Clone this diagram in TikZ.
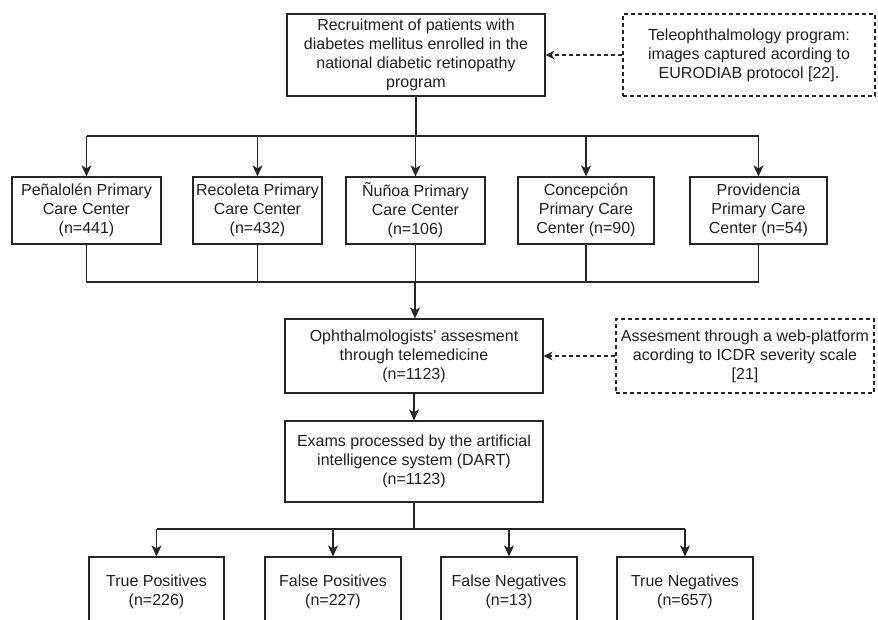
\documentclass[tikz,border=0pt]{standalone}
\usepackage{fontspec}
\setmainfont{Liberation Sans}
\usetikzlibrary{arrows.meta}
\definecolor{ink}{HTML}{262626}
\definecolor{txt}{HTML}{1F1F1F}
\tikzset{
  box/.style={draw=ink, line width=1.2pt, align=center, inner sep=0pt,
    text=txt, font=\fontsize{16}{19}\selectfont},
  dbox/.style={box, dashed, dash pattern=on 4pt off 3pt, line width=1.1pt},
  conn/.style={draw=ink, line width=1.2pt},
  arr/.style={conn, -{Stealth[length=11pt, width=10pt, inset=3pt]}},
  darr/.style={conn, line width=1.1pt, dash pattern=on 4pt off 3pt,
    -{Stealth[length=9pt, width=9pt, inset=3pt]}},
}
\begin{document}
\begin{tikzpicture}[x=1pt, y=-1pt]
\useasboundingbox (0,0) rectangle (878,619);
\clip (0,0) rectangle (878,619);
\fill[white] (0,0) rectangle (878,619);

% top row
\node[box, minimum width=258, minimum height=82] (rec) at (416,55)
  {Recruitment of patients with\\diabetes mellitus enrolled in the\\national diabetic retinopathy\\program};
\node[dbox, minimum width=252, minimum height=82] (tele) at (749,55)
  {Teleophthalmology program:\\images captured acording to\\EURODIAB protocol [22].};

% centers row
\node[box, minimum width=149, minimum height=67] (p1) at (86.5,210.5)
  {Peñalolén Primary\\Care Center\\(n=441)};
\node[box, minimum width=129, minimum height=67] (p2) at (257.5,210.5)
  {Recoleta Primary\\Care Center\\(n=432)};
\node[box, minimum width=139, minimum height=67] (p3) at (415.5,210.5)
  {Ñuñoa Primary\\Care Center\\(n=106)};
\node[box, minimum width=136, minimum height=67] (p4) at (586,210.5)
  {Concepción\\Primary Care\\Center (n=90)};
\node[box, minimum width=137, minimum height=67] (p5) at (758.5,210.5)
  {Providencia\\Primary Care\\Center (n=54)};

% assessment
\node[box, minimum width=258, minimum height=74] (opht) at (414,356)
  {Ophthalmologists\textquotesingle{} assesment\\through telemedicine\\(n=1123)};
\node[dbox, minimum width=258, minimum height=74] (icdr) at (745,356)
  {Assesment through a web-platform\\acording to ICDR severity scale\\{[21]}};
\node[box, minimum width=258, minimum height=81] (dart) at (414,461.5)
  {Exams processed by the artificial\\intelligence system (DART)\\(n=1123)};

% results
\node[box, minimum width=135, minimum height=70] (tp) at (156.5,592)
  {True Positives\\(n=226)};
\node[box, minimum width=136, minimum height=70] (fp) at (333,592)
  {False Positives\\(n=227)};
\node[box, minimum width=136, minimum height=70] (fn) at (509,592)
  {False Negatives\\(n=13)};
\node[box, minimum width=136, minimum height=70] (tn) at (685,592)
  {True Negatives\\(n=657)};

% junctions
\coordinate (j1) at (416,136);
\coordinate (j2) at (415,282);
\coordinate (j3) at (414,529);

% top branch
\draw[conn] (rec.south) -- (j1);
\draw[conn] (p1.north |- j1) -- (p5.north |- j1);
\foreach \n in {p1,p2,p3,p4,p5}{
  \draw[arr] (\n.north |- j1) -- (\n.north);
}

% join
\draw[conn] (p1.south) -- (p1.south |- j2) -- (p5.south |- j2) -- (p5.south);
\foreach \n in {p2,p3,p4}{
  \draw[conn] (\n.south) -- (\n.south |- j2);
}
\draw[arr] (j2) -- (opht.north -| j2);

\draw[arr] (opht.south) -- (dart.north);

% bottom branch
\draw[conn] (dart.south) -- (j3);
\draw[conn] (tp.north |- j3) -- (tn.north |- j3);
\foreach \n in {tp,fp,fn,tn}{
  \draw[arr] (\n.north |- j3) -- (\n.north);
}

% dashed side arrows
\draw[darr] (tele.west) -- (rec.east);
\draw[darr] (icdr.west) -- (opht.east);
\end{tikzpicture}
\end{document}
